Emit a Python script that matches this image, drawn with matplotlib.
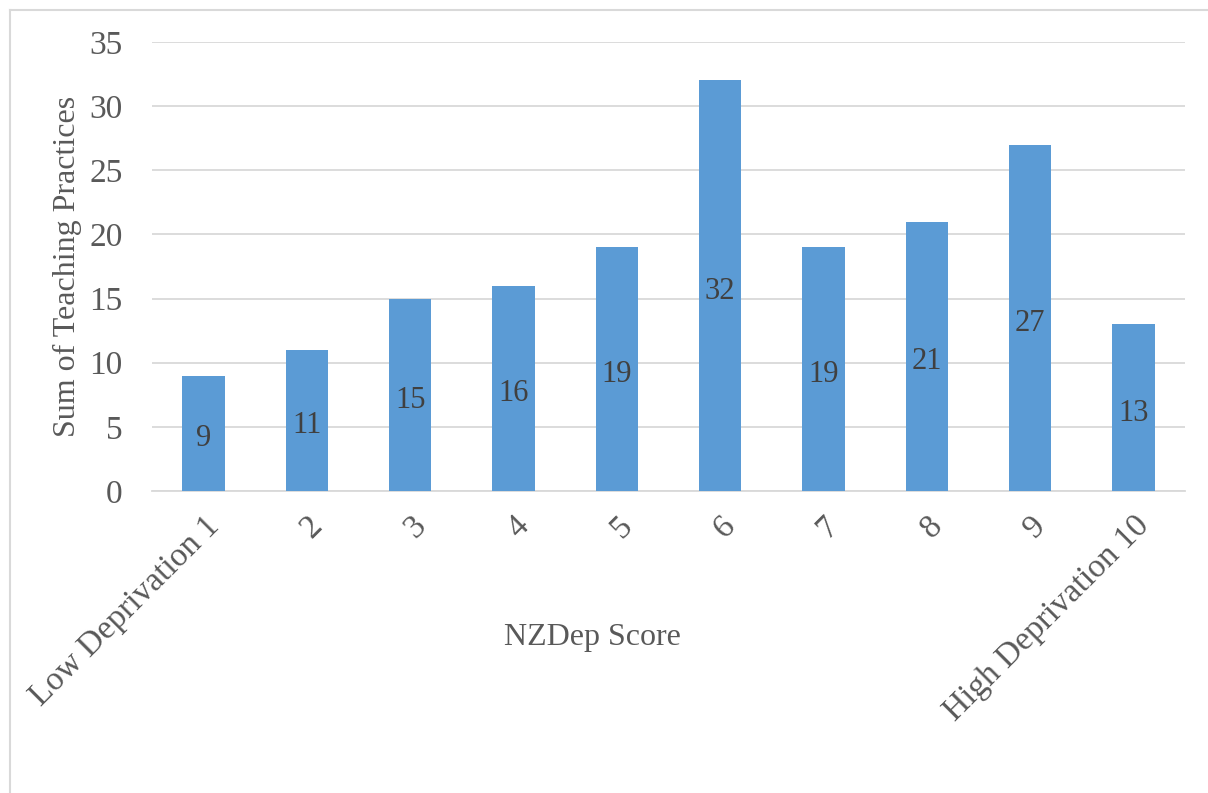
import matplotlib.pyplot as plt
from matplotlib.lines import Line2D

categories = ["Low Deprivation 1", "2", "3", "4", "5", "6", "7", "8", "9", "High Deprivation 10"]
values = [9, 11, 15, 16, 19, 32, 19, 21, 27, 13]

plt.rcParams['font.family'] = ['Liberation Serif', 'DejaVu Serif']

fig = plt.figure(figsize=(12.08, 7.93), dpi=100)
ax = fig.add_axes([152 / 1208, 1 - 491 / 793, (1185 - 152) / 1208, (491 - 42) / 793])

x = range(len(values))
bars = ax.bar(x, values, width=0.41, color="#5B9BD5", zorder=3)
for b, v in zip(bars, values):
    ax.annotate(str(v), (b.get_x() + b.get_width() / 2, v / 2), xytext=(0, -4),
                textcoords="offset points", ha="center", va="center",
                fontsize=22, color="#404040", zorder=4)

ax.set_xlim(-0.5, 9.5)
ax.set_ylim(0, 35)
ax.set_yticks(range(0, 36, 5))
ax.yaxis.grid(True, color="#D9D9D9", linewidth=1.3, zorder=0)
ax.set_xticks(list(x))
ax.set_xticklabels(categories, rotation=45, ha="right", rotation_mode="anchor")
ax.tick_params(axis="both", length=0, labelsize=24, colors="#595959")
ax.tick_params(axis="x", pad=14)
ax.tick_params(axis="y", pad=21)
for s in ["top", "right", "left"]:
    ax.spines[s].set_visible(False)
ax.spines["bottom"].set_color("#D9D9D9")
ax.spines["bottom"].set_linewidth(1.3)

ax.set_ylabel("Sum of Teaching Practices", fontsize=23, color="#595959")
ax.yaxis.set_label_coords((82 - 152) / 1033, 0.5)
fig.text(592 / 1208, 1 - 638 / 793, "NZDep Score", ha="center", va="center", fontsize=23, color="#595959")

# chart border (left and top visible)
fig.add_artist(Line2D([10 / 1208, 10 / 1208], [0, 1 - 10 / 793], transform=fig.transFigure, color="#D9D9D9", lw=1.5))
fig.add_artist(Line2D([10 / 1208, 1], [1 - 10 / 793, 1 - 10 / 793], transform=fig.transFigure, color="#D9D9D9", lw=1.5))

fig.savefig("out.png", dpi=100)
